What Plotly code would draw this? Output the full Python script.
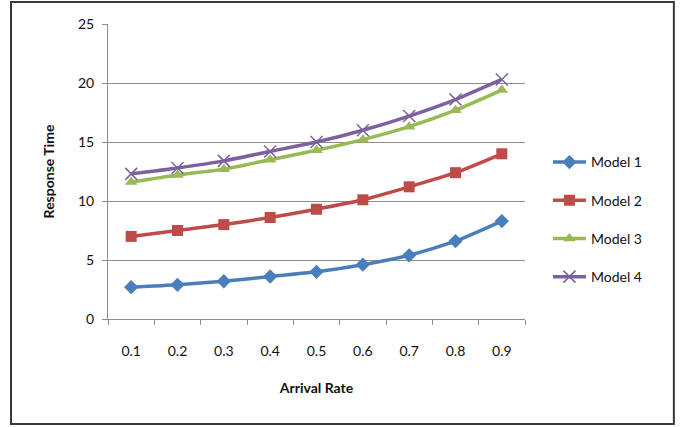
import plotly.graph_objects as go

# Arrival rates (categories) and response times for each model
arrival_rate = ["0.1", "0.2", "0.3", "0.4", "0.5", "0.6", "0.7", "0.8", "0.9"]
model_1 = [2.7, 2.9, 3.2, 3.6, 4.0, 4.6, 5.4, 6.6, 8.3]
model_2 = [7.0, 7.5, 8.0, 8.6, 9.3, 10.1, 11.2, 12.4, 14.0]
model_3 = [11.6, 12.2, 12.7, 13.5, 14.3, 15.2, 16.3, 17.7, 19.4]
model_4 = [12.3, 12.8, 13.4, 14.2, 15.0, 16.0, 17.2, 18.6, 20.3]
y_ticks = [0, 5, 10, 15, 20, 25]

FONT = "Lato, 'Open Sans', sans-serif"

series = [
    ("Model 1", model_1, "#4A7EBB", dict(symbol="diamond", size=11)),
    ("Model 2", model_2, "#BE4B48", dict(symbol="square", size=11)),
    ("Model 3", model_3, "#98B954", dict(symbol="triangle-up", size=11)),
    ("Model 4", model_4, "#7D60A0", dict(symbol="x-thin-open", size=12,
                                         line=dict(width=1.5, color="#7D60A0"))),
]

fig = go.Figure()
for name, vals, color, marker in series:
    fig.add_trace(go.Scatter(
        x=arrival_rate, y=vals, name=name, mode="lines+markers",
        line=dict(color=color, width=3.5, shape="spline", smoothing=0.6),
        marker=dict(color=color, **marker),
        legendgroup=name,
    ))

fig.update_layout(
    width=682, height=427,
    margin=dict(l=108, r=157, t=24, b=108),
    paper_bgcolor="white", plot_bgcolor="white",
    font=dict(family=FONT, size=14, color="#111111"),
    showlegend=True,
    legend=dict(x=1.055, y=0.585, xanchor="left", yanchor="top",
                tracegroupgap=17, font=dict(size=14),
                bgcolor="rgba(0,0,0,0)", itemwidth=33),
    xaxis=dict(
        type="category", range=[-0.5, 8.5],
        showline=True, linecolor="#8c8c8c", linewidth=1,
        ticks="outside", tickson="boundaries", ticklen=5,
        tickcolor="#8c8c8c", showgrid=False,
        ticklabelstandoff=19,
        title=dict(text="<b>Arrival Rate</b>", standoff=25,
                   font=dict(size=14, family=FONT)),
    ),
    yaxis=dict(
        range=[0, 25], tickvals=y_ticks,
        showline=True, linecolor="#8c8c8c", linewidth=1,
        ticks="outside", ticklen=5, tickcolor="#8c8c8c",
        showgrid=True, gridcolor="#8c8c8c", gridwidth=1,
        zeroline=False, ticklabelstandoff=5,
        title=dict(text="<b>Response Time</b>", standoff=20,
                   font=dict(size=14, family=FONT)),
    ),
)

# Outer frame around the whole chart
fig.add_shape(type="rect", xref="paper", yref="paper",
              x0=-0.2326, x1=1.357, y0=-0.356, y1=1.0746,
              line=dict(color="#3a3a3a", width=2), layer="below")

fig.write_html("out.html")
